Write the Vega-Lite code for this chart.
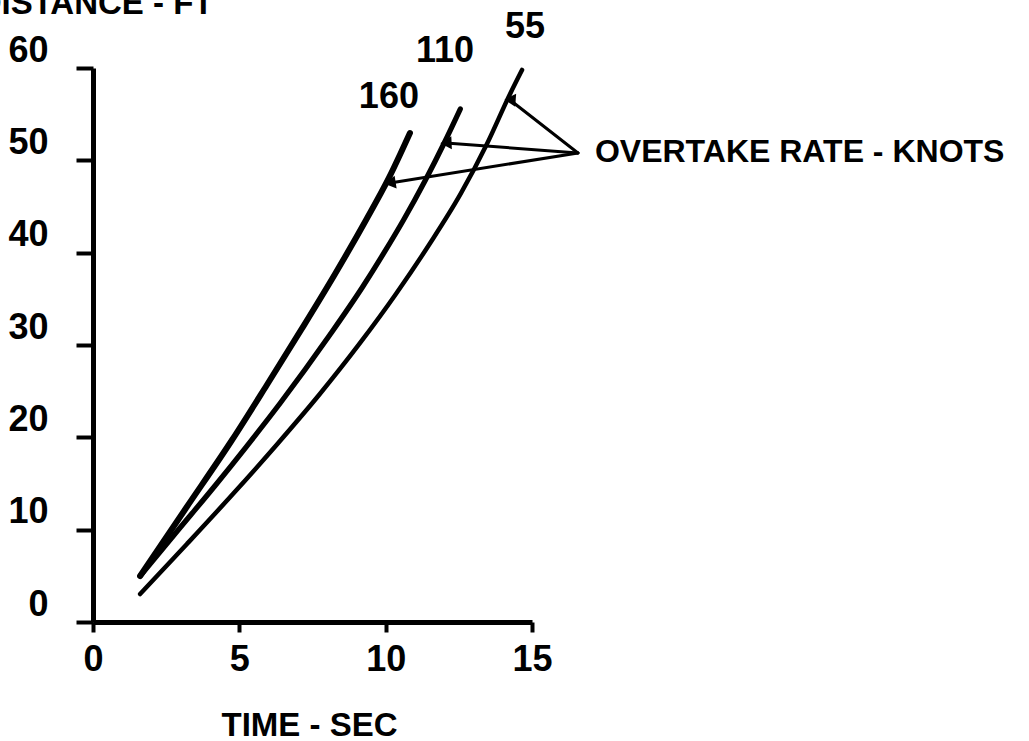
{
  "$schema": "https://vega.github.io/schema/vega-lite/v6.json",
  "width": 439,
  "height": 554,
  "autosize": {"type": "none"},
  "padding": {"left": 93, "top": 68, "right": 497, "bottom": 119},
  "background": "white",
  "config": {"view": {"stroke": null}},
  "datasets": {
    "curves": [
      {"rate": "160", "t": 1.61, "d": 4.98},
      {"rate": "160", "t": 3.18, "d": 12.35},
      {"rate": "160", "t": 4.75, "d": 19.71},
      {"rate": "160", "t": 5.94, "d": 25.67},
      {"rate": "160", "t": 7.11, "d": 31.63},
      {"rate": "160", "t": 8.27, "d": 37.69},
      {"rate": "160", "t": 9.33, "d": 43.54},
      {"rate": "160", "t": 10.11, "d": 48.09},
      {"rate": "160", "t": 10.83, "d": 52.96},
      {"rate": "110", "t": 1.61, "d": 4.98},
      {"rate": "110", "t": 2.91, "d": 9.96},
      {"rate": "110", "t": 4.19, "d": 14.84},
      {"rate": "110", "t": 5.23, "d": 18.95},
      {"rate": "110", "t": 6.40, "d": 23.72},
      {"rate": "110", "t": 8.09, "d": 31.08},
      {"rate": "110", "t": 9.21, "d": 36.28},
      {"rate": "110", "t": 9.94, "d": 39.97},
      {"rate": "110", "t": 10.61, "d": 43.54},
      {"rate": "110", "t": 11.36, "d": 47.87},
      {"rate": "110", "t": 12.00, "d": 51.88},
      {"rate": "110", "t": 12.55, "d": 55.56},
      {"rate": "55", "t": 1.61, "d": 3.03},
      {"rate": "55", "t": 3.21, "d": 8.45},
      {"rate": "55", "t": 4.78, "d": 13.86},
      {"rate": "55", "t": 6.30, "d": 19.28},
      {"rate": "55", "t": 7.75, "d": 24.69},
      {"rate": "55", "t": 9.10, "d": 30.11},
      {"rate": "55", "t": 10.35, "d": 35.52},
      {"rate": "55", "t": 11.50, "d": 40.94},
      {"rate": "55", "t": 12.56, "d": 46.36},
      {"rate": "55", "t": 13.46, "d": 51.77},
      {"rate": "55", "t": 14.25, "d": 57.19},
      {"rate": "55", "t": 14.66, "d": 59.79}
    ],
    "arrows": [
      {"rate": "55", "t": 14.25, "d": 56.54, "t2": 16.57, "d2": 50.80},
      {"rate": "110", "t": 12.06, "d": 51.88, "t2": 16.57, "d2": 50.80},
      {"rate": "160", "t": 10.15, "d": 47.55, "t2": 16.57, "d2": 50.80}
    ],
    "labels": [
      {"text": "160", "t": 10.11, "d": 55.67},
      {"text": "110", "t": 12.03, "d": 60.65},
      {"text": "55", "t": 14.76, "d": 63.2}
    ],
    "note": [
      {"text": "OVERTAKE RATE - KNOTS", "t": 17.15, "d": 49.82}
    ]
  },
  "layer": [
    {
      "data": {"name": "curves"},
      "mark": {"type": "line", "color": "black", "interpolate": "monotone", "strokeCap": "round", "clip": false},
      "encoding": {
        "x": {
          "field": "t", "type": "quantitative",
          "scale": {"domain": [0, 15], "nice": false, "zero": true},
          "axis": {
            "title": "TIME - SEC", "values": [0, 5, 10, 15], "grid": false,
            "domainWidth": 5, "domainColor": "black",
            "tickWidth": 4, "tickColor": "black", "tickSize": 10,
            "labelFont": "Liberation Sans",
            "labelFontSize": 36, "labelFontWeight": "bold", "labelColor": "black",
            "labelBaseline": "alphabetic", "labelPadding": 38, "labelAngle": 0,
            "labelFlush": false, "labelOverlap": false,
            "titleFont": "Liberation Sans",
            "titleFontSize": 33, "titleFontWeight": "bold", "titleColor": "black",
            "titleX": 216, "titleY": 113, "titleBaseline": "alphabetic", "titleAlign": "center"
          }
        },
        "y": {
          "field": "d", "type": "quantitative",
          "scale": {"domain": [0, 60], "nice": false, "zero": true},
          "axis": {
            "title": "DISTANCE - FT", "values": [0, 10, 20, 30, 40, 50, 60], "grid": false,
            "domainWidth": 5, "domainColor": "black",
            "tickWidth": 4, "tickColor": "black", "tickSize": 17,
            "labelFont": "Liberation Sans",
            "labelFontSize": 36, "labelFontWeight": "bold", "labelColor": "black",
            "labelBaseline": "alphabetic", "labelOffset": -7, "labelPadding": 28, "labelAlign": "right",
            "labelFlush": false, "labelOverlap": false,
            "titleFont": "Liberation Sans",
            "titleFontSize": 33, "titleFontWeight": "bold", "titleColor": "black",
            "titleAngle": 0, "titleAlign": "right", "titleBaseline": "alphabetic",
            "titleX": 120, "titleY": -55
          }
        },
        "strokeWidth": {
          "field": "rate", "type": "ordinal",
          "scale": {"domain": ["160", "110", "55"], "range": [6, 4.5, 3.5]},
          "legend": null
        }
      }
    },
    {
      "data": {"name": "arrows"},
      "mark": {"type": "rule", "color": "black", "strokeWidth": 3, "strokeCap": "round", "clip": false},
      "encoding": {
        "x": {"field": "t", "type": "quantitative"},
        "y": {"field": "d", "type": "quantitative"},
        "x2": {"field": "t2"},
        "y2": {"field": "d2"}
      }
    },
    {
      "data": {"name": "arrows"},
      "mark": {"type": "point", "shape": "triangle-up", "filled": true, "color": "black", "size": 170, "opacity": 1, "clip": false},
      "encoding": {
        "x": {"field": "t", "type": "quantitative"},
        "y": {"field": "d", "type": "quantitative"},
        "angle": {
          "field": "rate", "type": "ordinal",
          "scale": {"domain": ["160", "110", "55"], "range": [261, 274, 309]},
          "legend": null
        }
      }
    },
    {
      "data": {"name": "labels"},
      "mark": {"type": "text", "color": "black", "align": "center", "baseline": "alphabetic",
               "font": "Liberation Sans", "fontSize": 36, "fontWeight": "bold", "clip": false},
      "encoding": {
        "x": {"field": "t", "type": "quantitative"},
        "y": {"field": "d", "type": "quantitative"},
        "text": {"field": "text"}
      }
    },
    {
      "data": {"name": "note"},
      "mark": {"type": "text", "color": "black", "align": "left", "baseline": "alphabetic",
               "font": "Liberation Sans", "fontSize": 32, "fontWeight": "bold", "clip": false},
      "encoding": {
        "x": {"field": "t", "type": "quantitative"},
        "y": {"field": "d", "type": "quantitative"},
        "text": {"field": "text"}
      }
    }
  ]
}
